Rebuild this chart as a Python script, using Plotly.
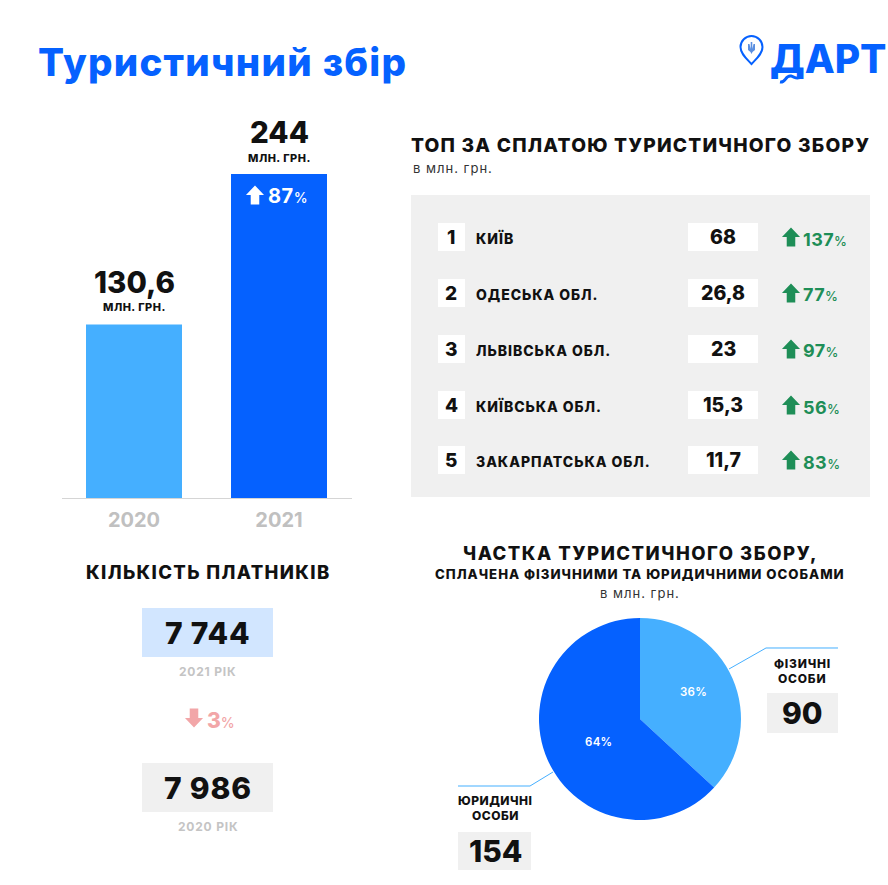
import re
import plotly.graph_objects as go

W, H = 888, 885
FONT = "Inter"
BLUE, SKY = "#0561FF", "#45AFFF"
INK = "#111111"
GREEN = "#1E8E57"
PINK = "#F2A6A8"
GREY = "#F0F0F0"

years = ["2020", "2021"]
tax_total = [130.6, 244]
total_labels = ["130,6", "244"]
growth_total = "87"

ranks = ["1", "2", "3", "4", "5"]
regions = ["КИЇВ", "ОДЕСЬКА ОБЛ.", "ЛЬВІВСЬКА ОБЛ.", "КИЇВСЬКА ОБЛ.", "ЗАКАРПАТСЬКА ОБЛ."]
region_values = ["68", "26,8", "23", "15,3", "11,7"]
region_growth = ["137", "77", "97", "56", "83"]

payers = ["7 744", "7 986"]
payer_years = ["2021 РІК", "2020 РІК"]
payer_change = "3"

share_labels = ["ФІЗИЧНІ ОСОБИ", "ЮРИДИЧНІ ОСОБИ"]
share_values = [90, 154]
share_percent = ["36%", "64%"]


def X(x):
    return x / W


def Y(y):
    return 1 - y / H


shapes, annotations = [], []


def text(x, y, s, size, color=INK, anchor="center", weight=700, sp=0):
    if sp:
        s = f"<span style='letter-spacing:{sp}px'>{s}</span>"
    annotations.append(dict(
        x=X(x), y=Y(y), xref="paper", yref="paper", text=s, showarrow=False,
        xanchor=anchor, yanchor="middle", align="center",
        font=dict(family=FONT, size=size, color=color, weight=weight),
        borderpad=0, borderwidth=0,
    ))


def box(x0, y0, x1, y1, color):
    shapes.append(dict(type="rect", xref="paper", yref="paper", x0=X(x0), x1=X(x1),
                       y0=Y(y0), y1=Y(y1), fillcolor=color, line_width=0, layer="below"))


def pixel_path(d, color=None, line=None, width=1):
    # decorative outline given in page pixels, converted to paper coordinates
    d = re.sub(r"(-?[\d.]+),(-?[\d.]+)",
               lambda m: f"{X(float(m[1])):.5f},{Y(float(m[2])):.5f}", d)
    shapes.append(dict(type="path", xref="paper", yref="paper", path=d,
                       fillcolor=color if color else "rgba(0,0,0,0)",
                       line=dict(color=line if line else "rgba(0,0,0,0)", width=width if line else 0),
                       layer="above"))


def poly(points, color=None, line=None, width=1, close=True):
    d = "M " + " L ".join(f"{a:.2f},{b:.2f}" for a, b in points) + (" Z" if close else "")
    pixel_path(d, color, line, width)


def arrow(cx, cy, color, up=True, s=1.0):
    pts = [(0, -10), (9.5, 0), (4.5, 0), (4.5, 10), (-4.5, 10), (-4.5, 0), (-9.5, 0)]
    sign = 1 if up else -1
    poly([(cx + a * s, cy + sign * b * s) for a, b in pts], color=color)


def pct(v, pct_size):
    return f"{v}<span style='font-size:{pct_size}px;font-weight:500'>%</span>"


# header
text(38, 62, "Туристичний збір", 38.5, BLUE, "left", 800, 1.25)
text(769.5, 58, "ДАРТ", 39, BLUE, "left", 800)
# logo pin
pixel_path("M 751.5,64 C 747,59 740.5,54 740.5,47 C 740.5,41 745.5,36 751.5,36 "
           "C 757.5,36 762.5,41 762.5,47 C 762.5,54 756,59 751.5,64 Z", "white", BLUE, 2)
poly([(748, 44), (749.5, 44), (750.7, 49), (750.7, 42), (752.3, 42), (752.3, 49), (753.5, 44), (755, 44),
      (755, 50), (752.5, 52), (751.5, 54), (750.5, 52), (748, 50)], color="#5B8FE0")
# swash under the first letter of the logo
pixel_path("M 780,82 C 786,83 785,75 791,76 C 795,77 797,80 802,76", None, BLUE, 3)

# bars labels
for x, yv, ys, lab in [(134, 282, 307, total_labels[0]), (279, 132, 158, total_labels[1])]:
    text(x, yv, lab, 29.5, INK, "center", 800)
    text(x, ys, "МЛН. ГРН.", 11, INK, "center", 800, 0.5)
arrow(255, 195, "white", True, 0.95)
text(268, 196.5, pct(growth_total, 14), 20, "white", "left", 700, 0.6)

# top table
box(411, 195, 870, 497, GREY)
text(411, 145, "ТОП ЗА СПЛАТОЮ ТУРИСТИЧНОГО ЗБОРУ", 19.2, INK, "left", 800, 1.2)
text(413, 168, "в млн. грн.", 13, "#333333", "left", 400, 1)
row_y = [237, 293, 349, 405, 460]
for y, r, name, val, g in zip(row_y, ranks, regions, region_values, region_growth):
    box(438, y - 14, 465, y + 14, "white")
    box(688, y - 14, 758, y + 14, "white")
    text(451, y, r, 19, INK, "center", 800)
    text(476, y + 1, name, 14, INK, "left", 800, 0.95)
    text(723, y, val, 19.5, INK, "center", 800)
    arrow(791, y, GREEN, True, 0.95)
    text(803, y + 2, pct(g, 13), 18, GREEN, "left", 700, 0.4)

# payers
text(208, 572, "КІЛЬКІСТЬ ПЛАТНИКІВ", 18.5, INK, "center", 800, 1.35)
box(142, 608, 273, 657, "#D2E6FF")
box(142, 763, 273, 812, GREY)
text(207.5, 633, payers[0], 30, INK, "center", 800, 0.8)
text(207.5, 788, payers[1], 30, INK, "center", 800, 0.8)
text(207.5, 671, payer_years[0], 12, "#C4C4C4", "center", 700, 0.8)
text(207.5, 826, payer_years[1], 12, "#C4C4C4", "center", 700, 0.8)
arrow(194, 718, PINK, False, 0.95)
text(207, 720, pct(payer_change, 14), 21, PINK, "left", 800)

# share
text(640, 553, "ЧАСТКА ТУРИСТИЧНОГО ЗБОРУ,", 18.5, INK, "center", 800, 1.5)
text(640, 574, "СПЛАЧЕНА ФІЗИЧНИМИ ТА ЮРИДИЧНИМИ ОСОБАМИ", 13.2, INK, "center", 800, 1)
text(640, 593, "в млн. грн.", 13, "#333333", "center", 400, 1)
poly([(729, 669), (766, 648), (838, 648)], line=SKY, width=1, close=False)
poly([(553, 772), (530, 786), (458, 786)], line=SKY, width=1, close=False)
box(767, 693, 838, 733, GREY)
box(458, 832, 531, 870, GREY)
text(802, 663, "ФІЗИЧНІ", 12, INK, "center", 800, 0.8)
text(802, 678, "ОСОБИ", 12, INK, "center", 800, 0.8)
text(802, 713, str(share_values[0]), 30, INK, "center", 800)
text(495, 800, "ЮРИДИЧНІ", 12, INK, "center", 800, 0.5)
text(495, 815, "ОСОБИ", 12, INK, "center", 800, 0.5)
text(495, 851, str(share_values[1]), 30, INK, "center", 800)
# slice percentages, placed where the reference has them
text(693, 692, share_percent[0], 11.5, "white", "center", 600, 0.3)
text(598, 742, share_percent[1], 11.5, "white", "center", 600, 0.3)

fig = go.Figure()
fig.add_trace(go.Bar(
    x=years, y=tax_total, width=0.662, marker=dict(color=[SKY, BLUE], line_width=0),
    hoverinfo="skip", xaxis="x", yaxis="y",
))
fig.add_trace(go.Pie(
    labels=share_labels, values=share_values, sort=False, direction="clockwise", rotation=0,
    marker=dict(colors=[SKY, BLUE], line_width=0), textinfo="none",
    domain=dict(x=[X(539), X(741)], y=[Y(820), Y(618)]), showlegend=False, hoverinfo="skip",
))
fig.update_layout(
    width=W, height=H, margin=dict(l=0, r=0, t=0, b=0), autosize=False,
    paper_bgcolor="white", plot_bgcolor="rgba(0,0,0,0)", showlegend=False,
    shapes=shapes, annotations=annotations,
    xaxis=dict(domain=[X(61.5), X(351.5)], type="category", range=[-0.5, 1.5], showgrid=False,
               zeroline=False, showline=True, linecolor="#D5D5D5", linewidth=1, ticks="",
               ticklen=0, ticklabelstandoff=4,
               tickfont=dict(family=FONT, size=20, color="#C0C0C0", weight=700)),
    yaxis=dict(domain=[Y(498), Y(174)], range=[0, 244], visible=False),
)
fig.write_html("out.html", config=dict(displayModeBar=False),
               post_script="document.body.style.margin='0';document.documentElement.style.overflow='hidden';")
